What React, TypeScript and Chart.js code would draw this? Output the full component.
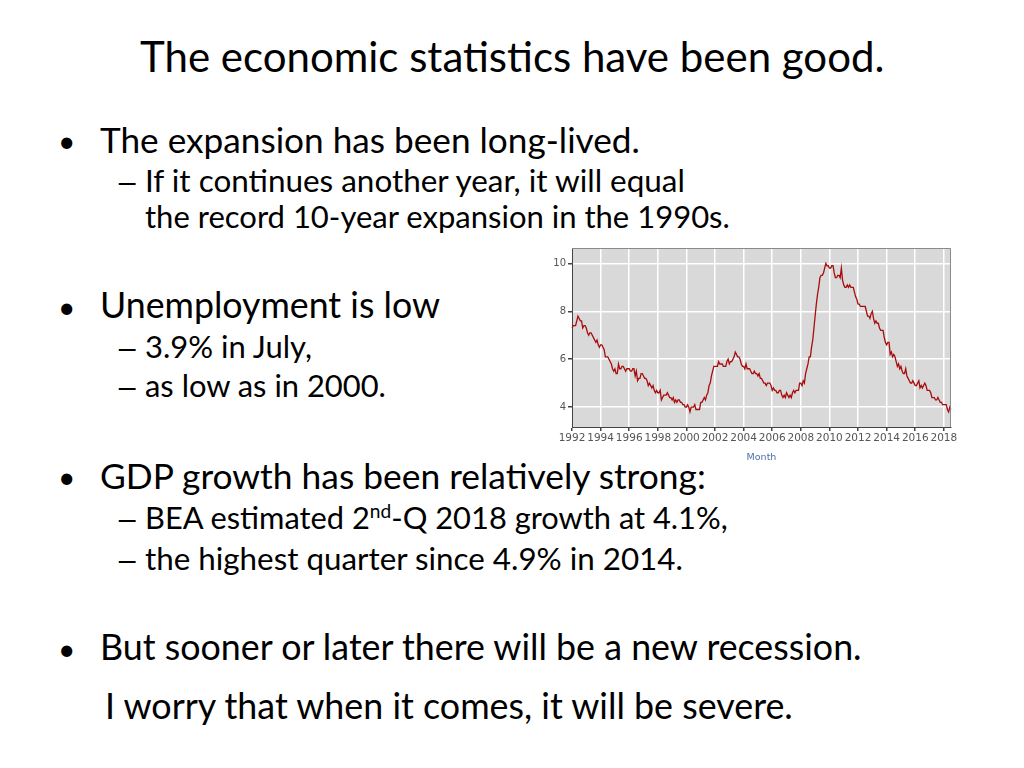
import React, { useEffect, useLayoutEffect, useRef, useState } from "react";
import { Chart, registerables } from "chart.js";

Chart.register(...registerables);

// Civilian unemployment rate, %, monthly (Jan..Dec)
const r1992 = [7.3, 7.4, 7.4, 7.4, 7.6, 7.8, 7.7, 7.6, 7.6, 7.3, 7.4, 7.4];
const r1993 = [7.3, 7.1, 7.0, 7.1, 7.1, 7.0, 6.9, 6.8, 6.7, 6.8, 6.6, 6.5];
const r1994 = [6.6, 6.6, 6.5, 6.4, 6.1, 6.1, 6.1, 6.0, 5.9, 5.8, 5.6, 5.5];
const r1995 = [5.6, 5.4, 5.4, 5.8, 5.6, 5.6, 5.7, 5.7, 5.6, 5.5, 5.6, 5.6];
const r1996 = [5.6, 5.5, 5.5, 5.6, 5.6, 5.3, 5.5, 5.1, 5.2, 5.2, 5.4, 5.4];
const r1997 = [5.3, 5.2, 5.2, 5.1, 4.9, 5.0, 4.9, 4.8, 4.9, 4.7, 4.6, 4.7];
const r1998 = [4.6, 4.6, 4.7, 4.3, 4.4, 4.5, 4.5, 4.5, 4.6, 4.5, 4.4, 4.4];
const r1999 = [4.3, 4.4, 4.2, 4.3, 4.2, 4.3, 4.3, 4.2, 4.2, 4.1, 4.1, 4.0];
const r2000 = [4.0, 4.1, 4.0, 3.8, 4.0, 4.0, 4.0, 4.1, 3.9, 3.9, 3.9, 3.9];
const r2001 = [4.2, 4.2, 4.3, 4.4, 4.3, 4.5, 4.6, 4.9, 5.0, 5.3, 5.5, 5.7];
const r2002 = [5.7, 5.7, 5.7, 5.9, 5.8, 5.8, 5.8, 5.7, 5.7, 5.7, 5.9, 6.0];
const r2003 = [5.8, 5.9, 5.9, 6.0, 6.1, 6.3, 6.2, 6.1, 6.1, 6.0, 5.8, 5.7];
const r2004 = [5.7, 5.6, 5.8, 5.6, 5.6, 5.6, 5.5, 5.4, 5.4, 5.5, 5.4, 5.4];
const r2005 = [5.3, 5.4, 5.2, 5.2, 5.1, 5.0, 5.0, 4.9, 5.0, 5.0, 5.0, 4.9];
const r2006 = [4.7, 4.8, 4.7, 4.7, 4.6, 4.6, 4.7, 4.7, 4.5, 4.4, 4.5, 4.4];
const r2007 = [4.6, 4.5, 4.4, 4.5, 4.4, 4.6, 4.7, 4.6, 4.7, 4.7, 4.7, 5.0];
const r2008 = [5.0, 4.9, 5.1, 5.0, 5.4, 5.6, 5.8, 6.1, 6.1, 6.5, 6.8, 7.3];
const r2009 = [7.8, 8.3, 8.7, 9.0, 9.4, 9.5, 9.5, 9.6, 9.8, 10.0, 9.9, 9.9];
const r2010 = [9.8, 9.8, 9.9, 9.9, 9.6, 9.4, 9.4, 9.5, 9.5, 9.4, 9.8, 9.3];
const r2011 = [9.1, 9.0, 9.0, 9.1, 9.0, 9.1, 9.0, 9.0, 9.0, 8.8, 8.6, 8.5];
const r2012 = [8.3, 8.3, 8.2, 8.2, 8.2, 8.2, 8.2, 8.0, 7.8, 7.8, 7.7, 7.9];
const r2013 = [8.0, 7.7, 7.5, 7.6, 7.5, 7.5, 7.3, 7.2, 7.2, 7.2, 6.9, 6.7];
const r2014 = [6.6, 6.7, 6.7, 6.2, 6.3, 6.1, 6.2, 6.1, 5.9, 5.7, 5.8, 5.6];
const r2015 = [5.7, 5.5, 5.4, 5.4, 5.6, 5.3, 5.2, 5.1, 5.0, 5.0, 5.1, 5.0];
const r2016 = [4.9, 4.9, 5.0, 5.1, 4.8, 4.9, 4.8, 4.9, 5.0, 4.9, 4.7, 4.7];
const r2017 = [4.7, 4.6, 4.4, 4.4, 4.4, 4.3, 4.3, 4.4, 4.3, 4.2, 4.2, 4.1];
const r2018 = [4.1, 4.1, 4.1, 3.9, 3.8, 4.0, 3.9];

const yearRows = [
  r1992, r1993, r1994, r1995, r1996, r1997, r1998, r1999, r2000, r2001,
  r2002, r2003, r2004, r2005, r2006, r2007, r2008, r2009, r2010, r2011,
  r2012, r2013, r2014, r2015, r2016, r2017, r2018,
];
const firstYear = 1992;
const yTicks = [4, 6, 8, 10];
const xTitle = "Month";

const monthLabels: string[] = [];
const monthYears: number[] = [];
const monthIdx: number[] = [];
const rateValues: number[] = [];
yearRows.forEach((row, yi) => {
  row.forEach((v, mi) => {
    monthLabels.push(`${firstYear + yi}-${String(mi + 1).padStart(2, "0")}`);
    monthYears.push(firstYear + yi);
    monthIdx.push(mi);
    rateValues.push(v);
  });
});

const FONT = "Lato, 'Open Sans', sans-serif";

// offset from the top of a line box to the baseline (Lato metrics: ascent .987, descent .213)
const baseOff = (fs: number) => 0.887 * fs;

function FitText(props: { x: number; base: number; width: number; size: number; children: React.ReactNode }) {
  const { x, base, width, size, children } = props;
  const ref = useRef<HTMLDivElement>(null);
  const [fs, setFs] = useState(size);
  useLayoutEffect(() => {
    const fit = () => {
      const el = ref.current;
      if (!el) return;
      const cur = parseFloat(getComputedStyle(el).fontSize);
      const w = el.getBoundingClientRect().width;
      if (w > 0 && Math.abs(w - width) > 0.5) {
        const nf = (cur * width) / w;
        el.style.fontSize = nf + "px";
        el.style.top = base - baseOff(nf) + "px";
        setFs(nf);
      }
    };
    fit();
    const d: any = document;
    if (d.fonts && d.fonts.ready) d.fonts.ready.then(() => { fit(); fit(); });
  }, []);
  return (
    <div
      ref={ref}
      style={{
        position: "absolute",
        left: x,
        top: base - baseOff(fs),
        fontSize: fs,
        lineHeight: 1,
        whiteSpace: "nowrap",
        fontFamily: FONT,
        color: "#000",
      }}
    >
      {children}
    </div>
  );
}

function Mark(props: { x: number; base: number; size: number; ch: string; sx?: number }) {
  return (
    <div
      style={{
        position: "absolute",
        left: props.x,
        top: props.base - 0.887 * props.size,
        fontSize: props.size,
        lineHeight: 1,
        fontFamily: FONT,
        color: "#000",
        transform: props.sx ? `scaleX(${props.sx})` : undefined,
        transformOrigin: "left center",
      }}
    >
      {props.ch}
    </div>
  );
}

function UnempChart() {
  const ref = useRef<HTMLCanvasElement>(null);
  useEffect(() => {
    const canvas = ref.current!;
    const plotBg = {
      id: "plotBg",
      beforeDraw(chart: any) {
        const { ctx, chartArea: a } = chart;
        ctx.save();
        ctx.fillStyle = "#d9d9d9";
        ctx.fillRect(a.left, a.top, a.right - a.left, a.bottom - a.top);
        ctx.restore();
      },
      afterDraw(chart: any) {
        const { ctx, chartArea: a } = chart;
        ctx.save();
        ctx.strokeStyle = "#8a8a8a";
        ctx.lineWidth = 1;
        ctx.beginPath();
        ctx.moveTo(a.left, a.top + 0.5);
        ctx.lineTo(a.right - 0.5, a.top + 0.5);
        ctx.lineTo(a.right - 0.5, a.bottom);
        ctx.stroke();
        ctx.restore();
      },
    };
    const chart = new Chart(canvas, {
      type: "line",
      data: {
        labels: monthLabels,
        datasets: [
          {
            data: rateValues,
            borderColor: "#a80c0c",
            borderWidth: 1.3,
            pointRadius: 0,
            tension: 0,
            fill: false,
          },
        ],
      },
      plugins: [plotBg],
      options: {
        animation: false,
        responsive: false,
        devicePixelRatio: 1,
        layout: { padding: { top: 7, right: 9, left: 0, bottom: 0 } },
        plugins: { legend: { display: false }, tooltip: { enabled: false } },
        scales: {
          x: {
            type: "category",
            offset: false,
            grid: { color: "#ffffff", lineWidth: 1.5, tickLength: 4, tickColor: "#444", drawOnChartArea: true },
            border: { color: "#444", width: 1 },
            ticks: {
              autoSkip: false,
              maxRotation: 0,
              minRotation: 0,
              padding: 1,
              color: "#555",
              font: { family: "'DejaVu Sans', sans-serif", size: 10.5 },
              callback: (_v: any, i: number) =>
                monthIdx[i] === 0 && (monthYears[i] - firstYear) % 2 === 0 ? String(monthYears[i]) : null,
            },
            title: {
              display: true,
              text: xTitle,
              color: "#4a72a6",
              font: { family: "'DejaVu Sans', sans-serif", size: 9.5 },
              padding: { top: 2, bottom: 7 },
            },
            afterFit: (s: any) => {
              s.height = 43;
            },
          },
          y: {
            min: 3.17,
            max: 10.64,
            afterBuildTicks: (s: any) => {
              s.ticks = yTicks.map((v) => ({ value: v }));
            },
            grid: { color: "#ffffff", lineWidth: 1.5, tickLength: 4, tickColor: "#444" },
            border: { color: "#444", width: 1 },
            ticks: {
              padding: 2,
              color: "#555",
              font: { family: "'DejaVu Sans', sans-serif", size: 10 },
            },
            afterFit: (s: any) => {
              s.width = 42;
            },
          },
        },
      },
    } as any);
    return () => chart.destroy();
  }, []);
  return (
    <div style={{ position: "absolute", left: 530, top: 240, width: 430, height: 230 }}>
      <canvas ref={ref} width={430} height={230} style={{ width: 430, height: 230, display: "block" }} />
    </div>
  );
}

export default function App() {
  const L1 = 33;
  const L2 = 28;
  const B = 30;
  return (
    <div style={{ position: "absolute", left: 0, top: 0, width: 1024, height: 768, background: "#fff", overflow: "hidden" }}>
      <FitText x={140} base={72} width={744} size={42}>The economic statistics have been good.</FitText>

      <Mark x={58} base={152} size={B} ch="•" />
      <FitText x={100} base={153} width={540} size={L1}>The expansion has been long-lived.</FitText>
      <Mark x={115} base={193} size={L2} ch="–" sx={1.5} />
      <FitText x={145} base={193} width={540} size={L2}>If it continues another year, it will equal</FitText>
      <FitText x={145} base={229} width={585} size={L2}>the record 10-year expansion in the 1990s.</FitText>

      <Mark x={58} base={318} size={B} ch="•" />
      <FitText x={100} base={319} width={340} size={L1}>Unemployment is low</FitText>
      <Mark x={115} base={359} size={L2} ch="–" sx={1.5} />
      <FitText x={145} base={359} width={167} size={L2}>3.9% in July,</FitText>
      <Mark x={115} base={398} size={L2} ch="–" sx={1.5} />
      <FitText x={145} base={398} width={241} size={L2}>as low as in 2000.</FitText>

      <Mark x={58} base={488} size={B} ch="•" />
      <FitText x={100} base={489} width={606} size={L1}>GDP growth has been relatively strong:</FitText>
      <Mark x={115} base={530} size={L2} ch="–" sx={1.5} />
      <FitText x={145} base={530} width={583} size={L2}>
        BEA estimated 2<sup style={{ fontSize: "0.62em", verticalAlign: "0.6em", lineHeight: 0 }}>nd</sup>-Q 2018 growth at 4.1%,
      </FitText>
      <Mark x={115} base={571} size={L2} ch="–" sx={1.5} />
      <FitText x={145} base={571} width={538} size={L2}>the highest quarter since 4.9% in 2014.</FitText>

      <Mark x={58} base={660} size={B} ch="•" />
      <FitText x={100} base={661} width={762} size={L1}>But sooner or later there will be a new recession.</FitText>
      <FitText x={105} base={720} width={688} size={L1}>I worry that when it comes, it will be severe.</FitText>

      <UnempChart />
    </div>
  );
}
